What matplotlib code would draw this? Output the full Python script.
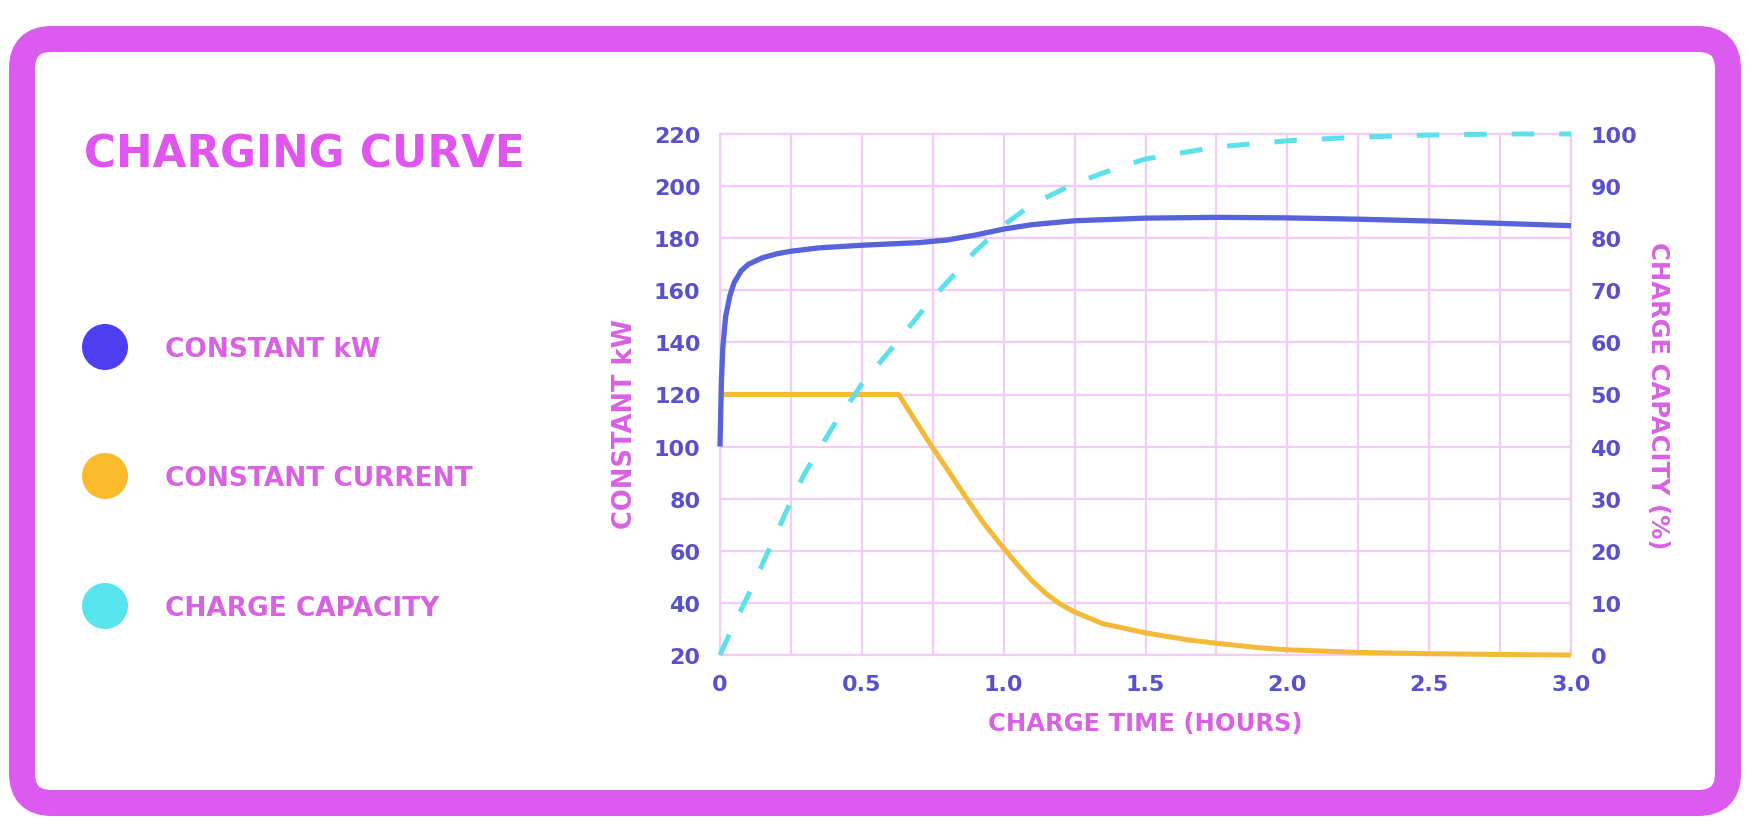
import matplotlib
matplotlib.use("Agg")
import matplotlib.pyplot as plt
from matplotlib.patches import FancyBboxPatch, Circle

# ---------------- data ----------------
kw_time = [0, 0.005, 0.01, 0.02, 0.035, 0.05, 0.075, 0.1, 0.15, 0.2, 0.25, 0.35,
           0.5, 0.6, 0.7, 0.8, 0.9, 1.0, 1.1, 1.25, 1.5, 1.75, 2.0, 2.25, 2.5, 2.75, 3.0]
kw_values = [100, 125, 138, 150, 158, 163, 167.5, 170, 172.5, 174, 175, 176.3,
             177.3, 177.8, 178.3, 179.3, 181.2, 183.5, 185.2, 186.7, 187.7, 188, 187.8,
             187.3, 186.6, 185.7, 184.8]

cc_time = [0, 0.63, 0.7, 0.75, 0.8, 0.87, 0.93, 1.0, 1.05, 1.1, 1.15, 1.2, 1.25,
           1.35, 1.5, 1.65, 1.75, 1.9, 2.0, 2.25, 2.5, 2.75, 3.0]
cc_values = [120, 120, 108, 99.5, 91.5, 80, 70.5, 61, 54.5, 48.5, 43.5, 39.5, 36.5,
             32, 28.5, 25.8, 24.5, 22.8, 22, 21, 20.5, 20.2, 20]

cap_time = [0, 0.05, 0.1, 0.15, 0.2, 0.25, 0.3, 0.4, 0.5, 0.6, 0.75, 0.9, 1.0, 1.1,
            1.25, 1.4, 1.5, 1.75, 2.0, 2.25, 2.5, 2.75, 3.0]
cap_values = [0, 6, 11.5, 17.5, 23.5, 29.5, 35, 44, 52, 58.5, 68.5, 77.5, 82.5, 86.5,
              90.5, 93.5, 95.2, 97.5, 98.7, 99.4, 99.8, 100, 100]

x_ticks = [0, 0.5, 1.0, 1.5, 2.0, 2.5, 3.0]
x_tick_labels = ["0", "0.5", "1.0", "1.5", "2.0", "2.5", "3.0"]
left_ticks = [20, 40, 60, 80, 100, 120, 140, 160, 180, 200, 220]
right_ticks = [0, 10, 20, 30, 40, 50, 60, 70, 80, 90, 100]

title = "CHARGING CURVE"
legend_labels = ["CONSTANT kW", "CONSTANT CURRENT", "CHARGE CAPACITY"]
x_label = "CHARGE TIME (HOURS)"
left_label = "CONSTANT kW"
right_label = "CHARGE CAPACITY (%)"

# ---------------- style ----------------
MAGENTA = "#DB5BEE"
TITLE = "#E055EE"
LABEL = "#D862E2"
TICK = "#5A50C9"
GRID = "#F3CBF7"
BLUE = "#5664D8"
YELLOW = "#F3BA3A"
CYAN = "#5CE0EA"
LEG_COLORS = ["#4E3EF2", "#FBBA2C", "#58E4EE"]

plt.rcParams["font.family"] = ["DejaVu Sans"]

W, H = 1748, 828
fig = plt.figure(figsize=(W / 100, H / 100), dpi=100)
fig.patch.set_facecolor("white")

# background / frame axes in pixel coordinates
bg = fig.add_axes([0, 0, 1, 1])
bg.set_xlim(0, W)
bg.set_ylim(H, 0)
bg.axis("off")
frame = FancyBboxPatch((22, 40), 1706, 764, boxstyle="round,pad=0,rounding_size=30",
                       facecolor="white", edgecolor=MAGENTA, linewidth=26 * 0.72)
bg.add_patch(frame)

bg.text(84, 168, title, fontsize=31.5, fontweight="bold", color=TITLE,
        ha="left", va="baseline")
leg_y = [348, 477, 607]
for yy, col, lab in zip(leg_y, LEG_COLORS, legend_labels):
    bg.add_patch(Circle((105, yy), 23, facecolor=col, edgecolor="none"))
    bg.text(165, yy + 9, lab, fontsize=19, fontweight="bold", color=LABEL,
            ha="left", va="baseline")

# main axes
L, R, T, B = 720, 1571, 135, 656
ax = fig.add_axes([L / W, 1 - B / H, (R - L) / W, (B - T) / H])
ax.set_facecolor("none")
ax.set_xlim(0, 3.0)
ax.set_ylim(20, 220)
ax.set_xticks([i * 0.25 for i in range(13)], minor=True)
ax.set_xticks(x_ticks)
ax.set_xticklabels(x_tick_labels)
ax.set_yticks(left_ticks)
ax.grid(True, which="both", axis="x", color=GRID, linewidth=1.6, zorder=0)
ax.grid(True, which="major", axis="y", color=GRID, linewidth=1.6, zorder=0)
ax.tick_params(which="both", length=0)
ax.tick_params(axis="y", pad=14, labelsize=16, labelcolor=TICK)
ax.tick_params(axis="x", pad=14, labelsize=16, labelcolor=TICK)
for s in ax.spines.values():
    s.set_color(GRID)
    s.set_linewidth(1.6)
for lab in ax.get_xticklabels() + ax.get_yticklabels():
    lab.set_fontweight("bold")

ax.plot(cc_time, cc_values, color=YELLOW, linewidth=3.6, solid_capstyle="butt",
        clip_on=False, zorder=3)
ax.plot(kw_time, kw_values, color=BLUE, linewidth=3.8, solid_capstyle="butt",
        clip_on=False, zorder=4)

ax.set_xlabel(x_label, fontsize=17.5, fontweight="bold", color=LABEL)
ax.xaxis.set_label_coords(0.5, -0.107)
ax.set_ylabel(left_label, fontsize=18.5, fontweight="bold", color=LABEL)
ax.yaxis.set_label_coords(-0.096, 0.446)

ax2 = ax.twinx()
ax2.set_ylim(0, 100)
ax2.set_yticks(right_ticks)
ax2.tick_params(length=0, pad=14, labelsize=16, labelcolor=TICK)
for lab in ax2.get_yticklabels():
    lab.set_fontweight("bold")
for s in ax2.spines.values():
    s.set_visible(False)
ax2.plot(cap_time, cap_values, color=CYAN, linewidth=3.6, linestyle=(0, (4.5, 5)),
         clip_on=False, zorder=5)
ax2.set_ylabel(right_label, fontsize=17.5, fontweight="bold", color=LABEL, rotation=-90)
ax2.yaxis.set_label_coords(1.116, 0.5)

fig.savefig("out.png", dpi=100, facecolor="white")
